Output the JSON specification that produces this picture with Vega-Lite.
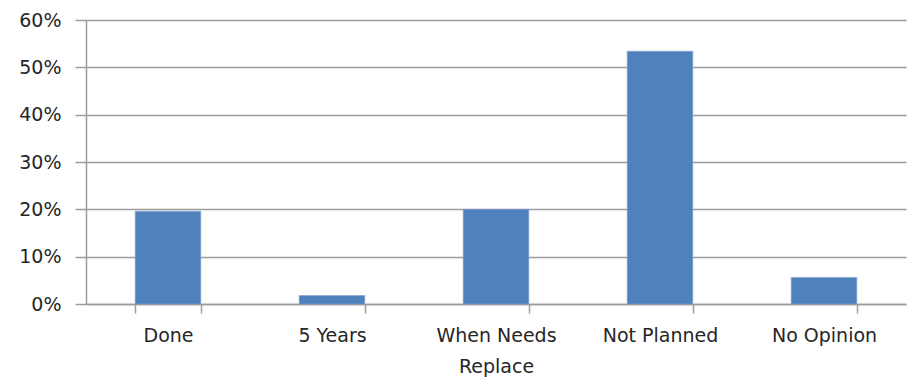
{
  "$schema": "https://vega.github.io/schema/vega-lite/v6.json",
  "autosize": "none",
  "width": 820,
  "height": 284,
  "padding": {"left": 86, "top": 20, "right": 9, "bottom": 81},
  "background": "white",
  "config": {
    "view": {"stroke": null},
    "font": "DejaVu Sans"
  },
  "data": {
    "values": [
      {"plan": "Done", "share": 0.196},
      {"plan": "5 Years", "share": 0.018},
      {"plan": "When Needs Replace", "share": 0.200},
      {"plan": "Not Planned", "share": 0.534},
      {"plan": "No Opinion", "share": 0.056}
    ]
  },
  "mark": {"type": "bar", "color": "#4f81bd", "stroke": "#7fa3d3", "strokeWidth": 0.6},
  "encoding": {
    "x": {
      "field": "plan",
      "type": "nominal",
      "sort": null,
      "scale": {"paddingInner": 0.6, "paddingOuter": 0.3},
      "axis": {
        "title": null,
        "labelAngle": 0,
        "tickBand": "extent",
        "domainColor": "#9c9c9c",
        "domainWidth": 1.5,
        "tickColor": "#9c9c9c",
        "tickWidth": 1.5,
        "tickSize": 9,
        "labelPadding": 13,
        "labelFontSize": 19,
        "labelColor": "#262626",
        "labelLineHeight": 31,
        "labelExpr": "datum.label == 'When Needs Replace' ? ['When Needs', 'Replace'] : datum.label"
      }
    },
    "y": {
      "field": "share",
      "type": "quantitative",
      "scale": {"domain": [0, 0.6], "nice": false},
      "axis": {
        "title": null,
        "format": ".0%",
        "values": [0, 0.1, 0.2, 0.3, 0.4, 0.5, 0.6],
        "gridColor": "#9c9c9c",
        "gridWidth": 1.5,
        "domainColor": "#9c9c9c",
        "domainWidth": 1.5,
        "tickColor": "#9c9c9c",
        "tickWidth": 1.5,
        "tickSize": 11,
        "labelPadding": 14,
        "labelFontSize": 19,
        "labelColor": "#262626"
      }
    }
  }
}
